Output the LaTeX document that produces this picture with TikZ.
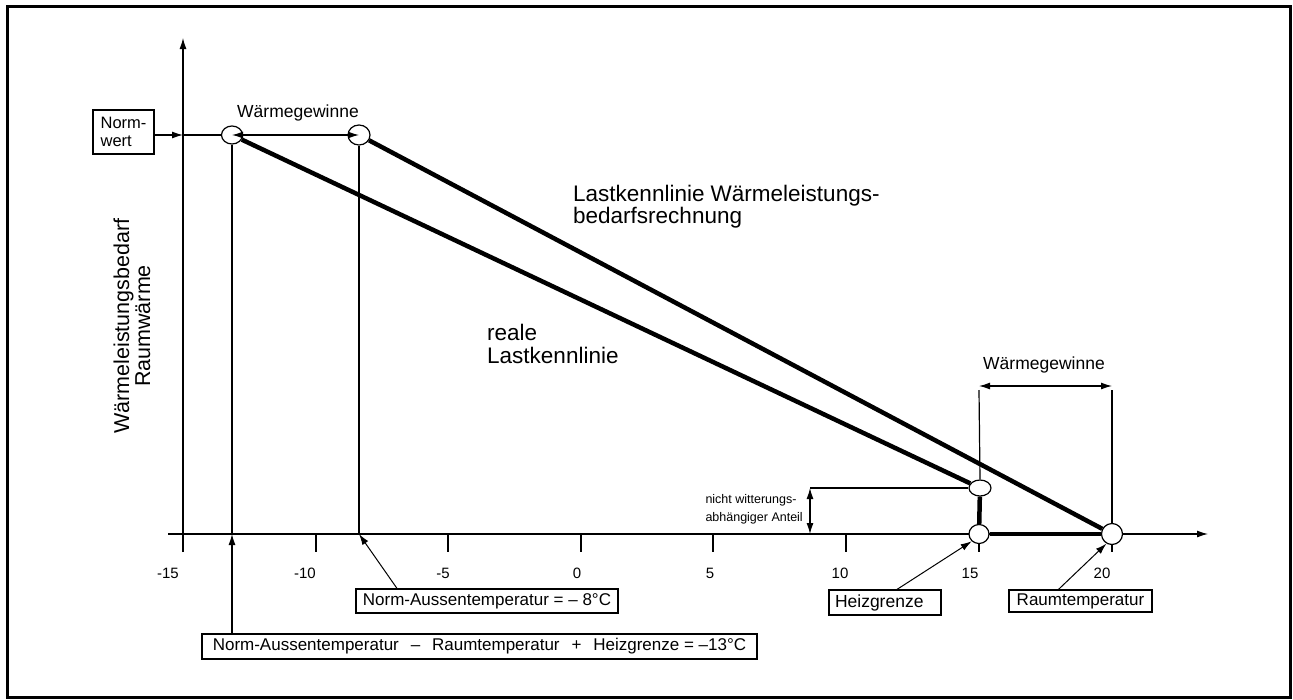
\documentclass[tikz,border=0pt]{standalone}
\usepackage{fontspec}
\setmainfont{Liberation Sans}
\usetikzlibrary{arrows.meta,shapes.geometric,calc}
\begin{document}
\begin{tikzpicture}[x=1pt,y=-1pt,
  thinl/.style={line width=1.2pt},
  ptr/.style={line width=1pt,-{Latex[length=11pt,width=7pt]}},
  arr/.style={line width=1.2pt,-{Latex[length=11pt,width=7pt]}},
  darr/.style={line width=1.2pt,{Latex[length=11pt,width=7pt]}-{Latex[length=11pt,width=7pt]}},
  thickl/.style={line width=4.5pt},
  circ/.style={ellipse,draw,fill=white,line width=1.2pt,inner sep=0pt},
  lbox/.style={draw,line width=1.2pt,inner sep=0pt,font={\fontsize{17}{20}\selectfont}},
  ticklab/.style={font={\fontsize{15}{18}\selectfont}},
  biglab/.style={font={\fontsize{22.5}{22}\selectfont},align=left,inner sep=0pt,anchor=north west},
  smlab/.style={font={\fontsize{17.5}{18}\selectfont}}
]
\useasboundingbox (0,0) rectangle (1293,699);
\draw[line width=3pt] (7,6) rectangle (1290,697);

% axes
\coordinate (ybot) at (183,552);
\coordinate (ytop) at (183,38);
\coordinate (xstart) at (168,534);
\coordinate (xend) at (1208,534);
\draw[arr] (ybot) -- (ytop);
\draw[arr] (xstart) -- (xend);
\foreach \x in {316,448,581,713,846,979,1112}
  \draw[thinl] (\x,534) -- (\x,552);
\foreach \x/\t in {168/-15,305/-10,443/-5,577/0,710/5,840/10,970/15,1102/20}
  \node[ticklab] at (\x,573) {\t};

% y-axis label
\node[rotate=90,align=center,font={\fontsize{21.5}{21}\selectfont}] (ylab) at (132,326)
  {Wärmeleistungsbedarf\\Raumwärme};

% circles
\node[circ,minimum width=21pt,minimum height=18pt] (c1) at (232,135) {};
\node[circ,minimum width=22pt,minimum height=20pt] (c2) at (359,135) {};
\node[circ,minimum width=22pt,minimum height=16pt] (c15u) at (980,488) {};
\node[circ,minimum width=20pt,minimum height=19pt] (c15) at (979,534) {};
\node[circ,minimum width=21pt,minimum height=21pt] (c20) at (1112,534) {};

\coordinate (p13) at (232,534);
\coordinate (p8) at (359,534);
\coordinate (yn) at (183,135);

% Normwert
\node[draw,line width=1.2pt,minimum width=61pt,minimum height=44pt,inner sep=0pt,
  align=left,font={\fontsize{16.5}{18}\selectfont}] (nw) at (123.5,132) {Norm-\\wert};
\draw[arr] (nw.east |- yn) -- (yn);
\draw[thinl] (yn) -- (c1);

% vertical guides
\draw[thinl] (c1.south) -- (p13);
\draw[thinl] (c2.south) -- (p8);
\coordinate (wgL) at (979,386);
\coordinate (wgR) at (1112,386);
\draw[thinl] ([yshift=-4pt]wgL) -- (c15u.north);
\draw[thinl] ([yshift=-4pt]wgR) -- (c20.north);
\draw[darr] (wgL) -- (wgR);
\node[smlab] (wgtxt2) at (1044,365) {Wärmegewinne};

% load lines
\draw[thickl] (c1) -- (c15u);
\draw[thickl] (c2) -- (c20);
\draw[thickl] (c15u) -- (c15);
\draw[thickl] (c15) -- (c20);

% upper Wärmegewinne arrow
\draw[darr] (c1.center) -- (c2.center);
\node[smlab] (wgtxt1) at (298,113) {Wärmegewinne};

% nicht witterungsabhaengig
\coordinate (nwT) at (810,488);
\coordinate (nwB) at (810,534);
\draw[thinl] (nwT) -- (c15u.west);
\draw[darr] (nwT) -- (nwB);
\node[align=left,anchor=east,inner sep=0pt,font={\fontsize{12.5}{18}\selectfont}] (nwtxt) at (803,509)
  {nicht witterungs-\\abhängiger Anteil};

% big labels
\node[biglab] (lk1) at (573,185) {Lastkennlinie Wärmeleistungs-\\bedarfsrechnung};
\node[biglab,font={\fontsize{22.5}{23}\selectfont}] (lk2) at (487,324) {reale\\Lastkennlinie};

% boxes
\node[lbox,minimum width=262pt,minimum height=24pt] (na8) at (487,601)
  {Norm-Aussentemperatur = – 8°C};
\node[lbox,minimum width=555pt,minimum height=25pt] (na13) at (479.5,646.5)
  {Norm-Aussentemperatur\hspace{0.7em}–\hspace{0.7em}Raumtemperatur\hspace{0.7em}+\hspace{0.7em}Heizgrenze = –13°C};
\node[lbox,minimum height=25pt,text width=100pt,align=left,inner xsep=6pt,font={\fontsize{17.5}{20}\selectfont}] (hg) at (885,602.5)
  {Heizgrenze};
\node[lbox,minimum width=143pt,minimum height=22pt] (rt) at (1080.5,601)
  {Raumtemperatur};

\draw[ptr] ([xshift=-90pt]na8.north) -- (p8);
\draw[arr] (na13.north -| p13) -- (p13);
\draw[ptr] ([xshift=12pt]hg.north) -- (c15.225);
\draw[ptr] ([xshift=-22pt]rt.north) -- (c20.240);
\end{tikzpicture}
\end{document}
